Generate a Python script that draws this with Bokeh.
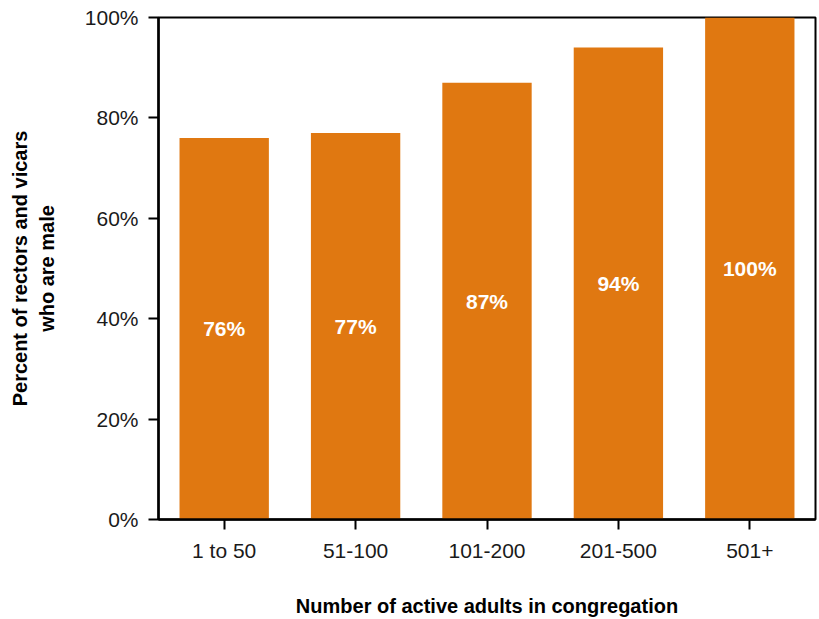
from bokeh.plotting import figure
from bokeh.models import ColumnDataSource, FactorRange, Range1d, PrintfTickFormatter, FixedTicker
from bokeh.core.properties import value
from bokeh.embed import file_html
from bokeh.resources import INLINE

categories = ["1 to 50", "51-100", "101-200", "201-500", "501+"]
percent_male = [76, 77, 87, 94, 100]
bar_labels = ["76%", "77%", "87%", "94%", "100%"]
y_ticks = [0, 20, 40, 60, 80, 100]

FONT = "Liberation Sans"
ORANGE = "#E07811"

src = ColumnDataSource(dict(
    cat=categories,
    val=percent_male,
    mid=[v / 2 for v in percent_male],
    lab=bar_labels,
))

p = figure(
    x_range=FactorRange(*categories, range_padding=0),
    y_range=Range1d(0, 100),
    width=819, height=619,
    output_backend="svg", toolbar_location=None,
    min_border_left=158, min_border_right=4, min_border_top=17, min_border_bottom=99,
)
p.background_fill_color = "white"
p.border_fill_color = "white"
p.outline_line_color = "black"
p.outline_line_width = 2
p.grid.visible = False

p.vbar(x="cat", top="val", width=0.68, source=src, fill_color=ORANGE, line_color=None)
p.text(x="cat", y="mid", text="lab", source=src, text_color="white",
       text_font=value(FONT), text_font_style="bold", text_font_size="21px",
       text_align="center", text_baseline="middle")

for ax in (p.xaxis[0], p.yaxis[0]):
    ax.axis_line_width = 2.5
    ax.axis_line_color = "black"
    ax.major_tick_line_width = 2
    ax.major_tick_line_color = "black"
    ax.major_tick_out = 10
    ax.major_tick_in = 0
    ax.minor_tick_line_color = None
    ax.major_label_text_font = FONT
    ax.major_label_text_font_size = "21px"
    ax.major_label_text_color = "#1a1a1a"
    ax.axis_label_text_font = FONT
    ax.axis_label_text_font_style = "bold"
    ax.axis_label_text_font_size = "20px"
    ax.axis_label_text_color = "black"

p.yaxis.ticker = FixedTicker(ticks=y_ticks)
p.yaxis.formatter = PrintfTickFormatter(format="%d%%")
p.yaxis.major_label_standoff = 10
p.yaxis.axis_label = "Percent of rectors and vicars\nwho are male"
p.yaxis.axis_label_standoff = 24

p.xaxis.major_label_standoff = 9
p.xaxis.axis_label = "Number of active adults in congregation"
p.xaxis.axis_label_standoff = 30

open("out.html", "w").write(file_html(p, INLINE))
